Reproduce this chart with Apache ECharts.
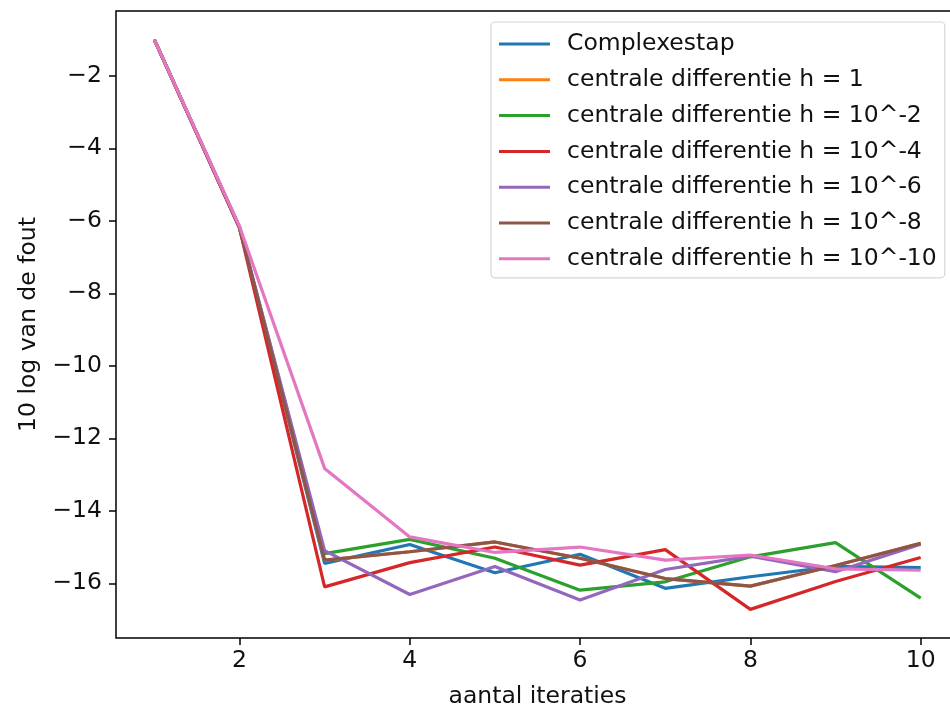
<!DOCTYPE html>
<html>
<head>
<meta charset="utf-8">
<script src="https://cdn.jsdelivr.net/npm/echarts@6/dist/echarts.min.js"></script>
<style>
  html, body { margin: 0; padding: 0; background: #fff; }
  #chart { width: 950px; height: 711px; }
</style>
</head>
<body>
<div id="chart"></div>
<script>
const iterations = [1, 2, 3, 4, 5, 6, 7, 8, 9, 10]

const complexestap = [-1.0, -6.18, -15.45, -14.93, -15.71, -15.2, -16.14, -15.82, -15.53, -15.57]
const centraalH1 = [-1.0, -6.18, -15.36, -15.13, -14.86, -15.31, -15.87, -16.08, -15.51, -14.9]
const centraalH2 = [-1.0, -6.18, -15.18, -14.79, -15.31, -16.19, -15.96, -15.27, -14.88, -16.41]
const centraalH4 = [-1.0, -6.2, -16.1, -15.43, -15.0, -15.5, -15.07, -16.72, -15.95, -15.29]
const centraalH6 = [-1.0, -6.18, -15.1, -16.31, -15.54, -16.46, -15.62, -15.25, -15.68, -14.92]
const centraalH8 = [-1.0, -6.18, -15.36, -15.13, -14.86, -15.31, -15.87, -16.08, -15.51, -14.9]
const centraalH10 = [-1.0, -6.15, -12.83, -14.72, -15.15, -15.0, -15.36, -15.22, -15.6, -15.64]

const xTicks = [2, 4, 6, 8, 10]
const yTicks = [-16, -14, -12, -10, -8, -6, -4, -2]

const seriesDefs = [
  { name: 'Complexestap', values: complexestap, color: '#1f77b4' },
  { name: 'centrale differentie h = 1', values: centraalH1, color: '#ff7f0e' },
  { name: 'centrale differentie h = 10^-2', values: centraalH2, color: '#2ca02c' },
  { name: 'centrale differentie h = 10^-4', values: centraalH4, color: '#d62728' },
  { name: 'centrale differentie h = 10^-6', values: centraalH6, color: '#9467bd' },
  { name: 'centrale differentie h = 10^-8', values: centraalH8, color: '#8c564b' },
  { name: 'centrale differentie h = 10^-10', values: centraalH10, color: '#e377c2' },
]

const font = 'DejaVu Sans'
const fontSize = 23.5
const textColor = '#111'
const minus = (v) => String(v).replace('-', '\u2212')

const chart = echarts.init(document.getElementById('chart'))

chart.setOption({
  animation: false,
  backgroundColor: '#fff',
  textStyle: { fontFamily: font },
  grid: {
    left: 116,
    top: 11,
    width: 843,
    height: 627,
    containLabel: false,
    outerBoundsMode: 'none',
    show: true,
    borderColor: '#000',
    borderWidth: 1.5,
    backgroundColor: 'transparent',
  },
  legend: {
    orient: 'vertical',
    left: 491,
    top: 22,
    padding: [9, 8, 6, 8],
    icon: 'rect',
    itemWidth: 51,
    itemHeight: 3,
    itemGap: 9.8,
    backgroundColor: 'rgba(255,255,255,0.85)',
    borderColor: '#d6d6d6',
    borderWidth: 1.2,
    borderRadius: 4,
    data: seriesDefs.map((s) => s.name),
    textStyle: {
      fontFamily: font,
      fontSize: fontSize,
      color: textColor,
      lineHeight: 26,
      padding: [0, 0, 0, 12],
    },
  },
  xAxis: {
    type: 'value',
    min: 0.55,
    max: 10.45,
    name: 'aantal iteraties',
    nameLocation: 'middle',
    nameGap: 47,
    nameTextStyle: { fontFamily: font, fontSize: fontSize, color: textColor },
    axisLine: { show: false },
    splitLine: { show: false },
    axisTick: {
      show: true,
      inside: false,
      length: 7,
      lineStyle: { color: '#000', width: 1.5 },
      customValues: xTicks,
    },
    axisLabel: {
      fontFamily: font,
      fontSize: fontSize,
      color: textColor,
      margin: 11,
      customValues: xTicks,
      formatter: minus,
    },
  },
  yAxis: {
    type: 'value',
    min: -17.51,
    max: -0.21,
    name: '10 log van de fout',
    nameLocation: 'middle',
    nameGap: 75,
    nameRotate: 90,
    nameTextStyle: { fontFamily: font, fontSize: fontSize, color: textColor },
    axisLine: { show: false },
    splitLine: { show: false },
    axisTick: {
      show: true,
      inside: false,
      length: 7,
      lineStyle: { color: '#000', width: 1.5 },
      customValues: yTicks,
    },
    axisLabel: {
      fontFamily: font,
      fontSize: fontSize,
      color: textColor,
      margin: 14,
      customValues: yTicks,
      formatter: minus,
    },
  },
  series: seriesDefs.map((s) => ({
    name: s.name,
    type: 'line',
    data: iterations.map((x, i) => [x, s.values[i]]),
    symbol: 'none',
    color: s.color,
    lineStyle: { width: 3.2, color: s.color },
    emphasis: { disabled: true },
  })),
})
</script>
</body>
</html>
